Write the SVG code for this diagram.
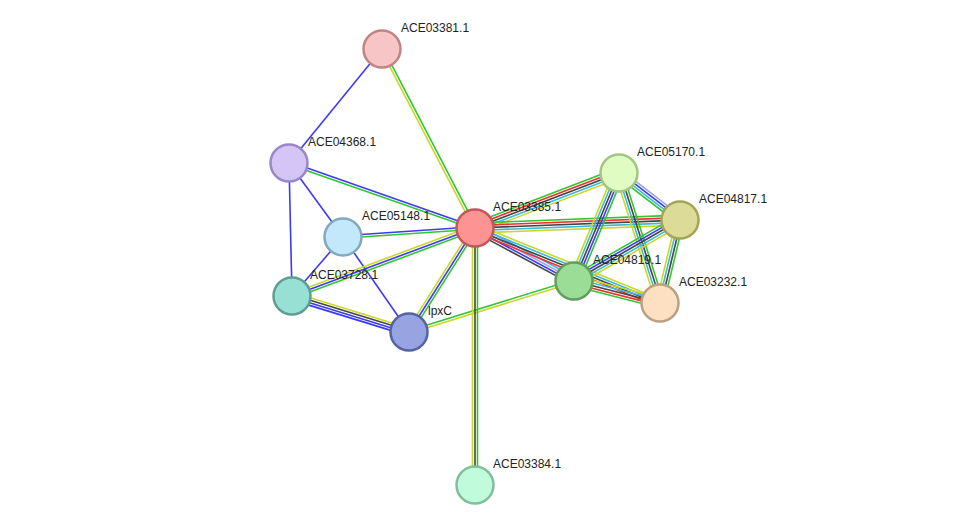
<svg xmlns="http://www.w3.org/2000/svg" width="975" height="531" viewBox="0 0 975 531">
<style>
line{stroke-width:1.6}
.g{stroke:#33c533}.y{stroke:#c8d827}.b{stroke:#3b3bf5}.k{stroke:#444}.r{stroke:#f0302e}.c{stroke:#3cb8d8}.p{stroke:#a2a2f0}
.n{stroke-width:2.5}
text{font-family:"Liberation Sans",Arial,sans-serif;font-size:12px;fill:#222}
</style>
<rect width="975" height="531" fill="#fff"/>
<g id="connectors">
<g transform="translate(382,49) rotate(62.5)"><line class="g" x1="0" y1="-1.3" x2="201.7" y2="-1.3"/><line class="y" x1="0" y1="1.3" x2="201.7" y2="1.3"/></g>
<g transform="translate(382,49) rotate(129.2)"><line class="b" x1="0" y1="0" x2="147.1" y2="0"/></g>
<g transform="translate(289,163) rotate(19.3)"><line class="b" x1="0" y1="-1.3" x2="197" y2="-1.3"/><line class="g" x1="0" y1="1.3" x2="197" y2="1.3"/></g>
<g transform="translate(289,163) rotate(53.9)"><line class="b" x1="0" y1="0" x2="91.6" y2="0"/></g>
<g transform="translate(289,163) rotate(88.7)"><line class="b" x1="0" y1="0" x2="133" y2="0"/></g>
<g transform="translate(343,237) rotate(-3.9)"><line class="b" x1="0" y1="-1.3" x2="132.3" y2="-1.3"/><line class="g" x1="0" y1="1.3" x2="132.3" y2="1.3"/></g>
<g transform="translate(343,237) rotate(130.8)"><line class="b" x1="0" y1="0" x2="78" y2="0"/></g>
<g transform="translate(343,237) rotate(55.2)"><line class="b" x1="0" y1="0" x2="115.7" y2="0"/></g>
<g transform="translate(292,296) rotate(-20.4)"><line class="y" x1="0" y1="-2.5" x2="195.2" y2="-2.5"/><line class="b" x1="0" y1="0" x2="195.2" y2="0"/><line class="g" x1="0" y1="2.5" x2="195.2" y2="2.5"/></g>
<g transform="translate(292,296) rotate(17.1)"><line class="y" x1="0" y1="-3.7" x2="122.4" y2="-3.7"/><line class="k" x1="0" y1="-1.2" x2="122.4" y2="-1.2"/><line class="b" x1="0" y1="1.3" x2="122.4" y2="1.3"/><line class="b" x1="0" y1="3.8" x2="122.4" y2="3.8"/></g>
<g transform="translate(409,332) rotate(-57.6)"><line class="y" x1="0" y1="-2.5" x2="123.2" y2="-2.5"/><line class="b" x1="0" y1="0" x2="123.2" y2="0"/><line class="g" x1="0" y1="2.5" x2="123.2" y2="2.5"/></g>
<g transform="translate(409,332) rotate(-17.2)"><line class="g" x1="0" y1="-1.3" x2="172.7" y2="-1.3"/><line class="y" x1="0" y1="1.3" x2="172.7" y2="1.3"/></g>
<g transform="translate(475,228) rotate(90)"><line class="g" x1="0" y1="-2.5" x2="257" y2="-2.5"/><line class="k" x1="0" y1="0" x2="257" y2="0"/><line class="y" x1="0" y1="2.5" x2="257" y2="2.5"/></g>
<g transform="translate(475,228) rotate(-20.9)"><line class="g" x1="0" y1="-5" x2="154.1" y2="-5"/><line class="r" x1="0" y1="-2.5" x2="154.1" y2="-2.5"/><line class="k" x1="0" y1="0" x2="154.1" y2="0"/><line class="c" x1="0" y1="2.5" x2="154.1" y2="2.5"/><line class="y" x1="0" y1="5" x2="154.1" y2="5"/></g>
<g transform="translate(475,228) rotate(-2.2)"><line class="g" x1="0" y1="-5" x2="205.2" y2="-5"/><line class="r" x1="0" y1="-2.5" x2="205.2" y2="-2.5"/><line class="k" x1="0" y1="0" x2="205.2" y2="0"/><line class="c" x1="0" y1="2.5" x2="205.2" y2="2.5"/><line class="y" x1="0" y1="5" x2="205.2" y2="5"/></g>
<g transform="translate(475,228) rotate(28.2)"><line class="c" x1="0" y1="-3.7" x2="112.3" y2="-3.7"/><line class="p" x1="0" y1="-1.2" x2="112.3" y2="-1.2"/><line class="b" x1="0" y1="1.3" x2="112.3" y2="1.3"/><line class="k" x1="0" y1="3.8" x2="112.3" y2="3.8"/></g>
<g transform="translate(475,228) rotate(22.1)"><line class="y" x1="0" y1="-3.7" x2="199.6" y2="-3.7"/><line class="c" x1="0" y1="-1.2" x2="199.6" y2="-1.2"/><line class="k" x1="0" y1="1.3" x2="199.6" y2="1.3"/><line class="r" x1="0" y1="3.8" x2="199.6" y2="3.8"/></g>
<g transform="translate(619,173) rotate(112.6)"><line class="g" x1="0" y1="-5" x2="117" y2="-5"/><line class="b" x1="0" y1="-2.5" x2="117" y2="-2.5"/><line class="k" x1="0" y1="0" x2="117" y2="0"/><line class="c" x1="0" y1="2.5" x2="117" y2="2.5"/><line class="y" x1="0" y1="5" x2="117" y2="5"/></g>
<g transform="translate(619,173) rotate(37.6)"><line class="p" x1="0" y1="-3.7" x2="77" y2="-3.7"/><line class="b" x1="0" y1="-1.2" x2="77" y2="-1.2"/><line class="c" x1="0" y1="1.3" x2="77" y2="1.3"/><line class="g" x1="0" y1="3.8" x2="77" y2="3.8"/></g>
<g transform="translate(619,173) rotate(72.5)"><line class="g" x1="0" y1="-3.7" x2="136.3" y2="-3.7"/><line class="k" x1="0" y1="-1.2" x2="136.3" y2="-1.2"/><line class="c" x1="0" y1="1.3" x2="136.3" y2="1.3"/><line class="y" x1="0" y1="3.8" x2="136.3" y2="3.8"/></g>
<g transform="translate(680,220) rotate(150.1)"><line class="y" x1="0" y1="-5" x2="122.3" y2="-5"/><line class="c" x1="0" y1="-2.5" x2="122.3" y2="-2.5"/><line class="k" x1="0" y1="0" x2="122.3" y2="0"/><line class="b" x1="0" y1="2.5" x2="122.3" y2="2.5"/><line class="g" x1="0" y1="5" x2="122.3" y2="5"/></g>
<g transform="translate(680,220) rotate(103.5)"><line class="g" x1="0" y1="-3.7" x2="85.4" y2="-3.7"/><line class="k" x1="0" y1="-1.2" x2="85.4" y2="-1.2"/><line class="c" x1="0" y1="1.3" x2="85.4" y2="1.3"/><line class="y" x1="0" y1="3.8" x2="85.4" y2="3.8"/></g>
<g transform="translate(574,281) rotate(14.3)"><line class="y" x1="0" y1="-5" x2="88.8" y2="-5"/><line class="c" x1="0" y1="-2.5" x2="88.8" y2="-2.5"/><line class="k" x1="0" y1="0" x2="88.8" y2="0"/><line class="r" x1="0" y1="2.5" x2="88.8" y2="2.5"/><line class="g" x1="0" y1="5" x2="88.8" y2="5"/></g>
</g>
<g id="ACE03381.1"><circle class="n" cx="382" cy="49" r="18.5" fill="#f7c5c5" stroke="#c08484"/><text x="401" y="32">ACE03381.1</text></g>
<g id="ACE04368.1"><circle class="n" cx="289" cy="163" r="18.5" fill="#d4c5f7" stroke="#9a87c6"/><text x="308" y="146">ACE04368.1</text></g>
<g id="ACE05148.1"><circle class="n" cx="343" cy="237" r="18.5" fill="#c3e8fb" stroke="#82a9bd"/><text x="362" y="220">ACE05148.1</text></g>
<g id="ACE03385.1"><circle class="n" cx="475" cy="228" r="18.5" fill="#fd9393" stroke="#c0595a"/><text x="493" y="211">ACE03385.1</text></g>
<g id="ACE03728.1"><circle class="n" cx="292" cy="296" r="18.5" fill="#98dfd4" stroke="#5e9e95"/><text x="310" y="279">ACE03728.1</text></g>
<g id="lpxC"><circle class="n" cx="409" cy="332" r="18.5" fill="#98a4e2" stroke="#5563a4"/><text x="428" y="315">lpxC</text></g>
<g id="ACE05170.1"><circle class="n" cx="619" cy="173" r="18.5" fill="#e0fcc3" stroke="#a3c583"/><text x="637" y="156">ACE05170.1</text></g>
<g id="ACE04817.1"><circle class="n" cx="680" cy="220" r="18.5" fill="#dcdb98" stroke="#a4a45a"/><text x="699" y="203">ACE04817.1</text></g>
<g id="ACE04819.1"><circle class="n" cx="574" cy="281" r="18.5" fill="#9bdd97" stroke="#5f9f5b"/><text x="593" y="264">ACE04819.1</text></g>
<g id="ACE03232.1"><circle class="n" cx="660" cy="303" r="18.5" fill="#fddfc2" stroke="#bca083"/><text x="679" y="286">ACE03232.1</text></g>
<g id="ACE03384.1"><circle class="n" cx="475" cy="485" r="18.5" fill="#c0fcdb" stroke="#80bf9c"/><text x="493" y="468">ACE03384.1</text></g>
</svg>
